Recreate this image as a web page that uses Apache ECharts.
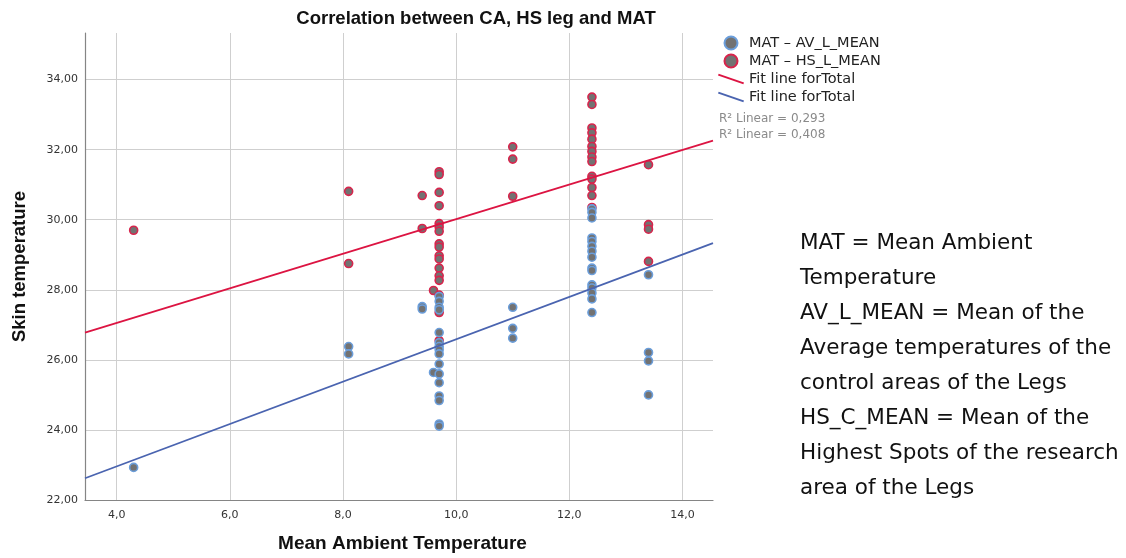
<!DOCTYPE html>
<html>
<head>
<meta charset="utf-8">
<script src="https://cdn.jsdelivr.net/npm/echarts@6/dist/echarts.min.js"></script>
<style>html,body{margin:0;padding:0;background:#fff;}#c{width:1126px;height:558px;}</style>
</head>
<body>
<div id="c"></div>
<script>
// ---- data ----
const xTicks = [4, 6, 8, 10, 12, 14];
const yTicks = [22, 24, 26, 28, 30, 32, 34];

const avX = [4.3, 8.1, 8.1, 9.4, 9.4, 9.6,
  9.7, 9.7, 9.7, 9.7, 9.7, 9.7, 9.7, 9.7, 9.7, 9.7, 9.7, 9.7, 9.7, 9.7, 9.7, 9.7,
  11.0, 11.0, 11.0,
  12.4, 12.4, 12.4, 12.4, 12.4, 12.4, 12.4, 12.4, 12.4, 12.4, 12.4, 12.4, 12.4, 12.4, 12.4,
  13.4, 13.4, 13.4, 13.4];
const avY = [22.93, 26.38, 26.17, 27.52, 27.45, 25.64,
  27.81, 27.67, 27.50, 27.43, 26.78, 26.49, 26.38, 26.29, 26.17, 25.88, 25.60, 25.35, 24.97, 24.84, 24.17, 24.11,
  27.50, 26.90, 26.62,
  30.31, 30.21, 30.05, 29.48, 29.38, 29.24, 29.10, 28.93, 28.62, 28.55, 28.14, 28.05, 27.91, 27.74, 27.35,
  28.43, 26.21, 25.97, 25.00];

const hsX = [4.3, 8.1, 8.1, 9.4, 9.4, 9.6,
  9.7, 9.7, 9.7, 9.7, 9.7, 9.7, 9.7, 9.7, 9.7, 9.7, 9.7, 9.7, 9.7, 9.7, 9.7, 9.7, 9.7,
  11.0, 11.0, 11.0,
  12.4, 12.4, 12.4, 12.4, 12.4, 12.4, 12.4, 12.4, 12.4, 12.4, 12.4, 12.4, 12.4, 12.4,
  13.4, 13.4, 13.4, 13.4];
const hsY = [29.70, 30.81, 28.75, 30.69, 29.75, 27.98,
  31.37, 31.29, 30.78, 30.40, 29.89, 29.79, 29.67, 29.31, 29.22, 28.97, 28.88, 28.62, 28.40, 28.27, 27.85, 27.35, 26.55,
  32.08, 31.73, 30.67,
  33.50, 33.29, 32.62, 32.48, 32.30, 32.09, 31.95, 31.79, 31.66, 31.24, 31.16, 30.92, 30.69, 30.35,
  31.57, 29.86, 29.73, 28.81];

// fit line end points (x, y)
const hsFitX = [3.44, 14.54];
const hsFitY = [26.78, 32.26];
const avFitX = [3.44, 14.54];
const avFitY = [22.62, 29.33];

const rSquared = ['0,293', '0,408'];

const notes = [
  'MAT = Mean Ambient',
  'Temperature',
  'AV_L_MEAN = Mean of the',
  'Average temperatures of the',
  'control areas of the Legs',
  'HS_C_MEAN = Mean of the',
  'Highest Spots of the research',
  'area of the Legs'
];

// ---- build ----
const zip = (xs, ys) => xs.map((x, i) => [x, ys[i]]);
const comma = (v, d) => v.toFixed(d).replace('.', ',');

const AV_NAME = 'MAT \u2013 AV_L_MEAN';
const HS_NAME = 'MAT \u2013 HS_L_MEAN';
const FIT_R = 'Fit line forTotal';
const FIT_B = 'Fit line forTotal\u200b';
const lineIcon = 'path://M0.66,0 L26.66,9 L26,10.9 L0,1.9 Z';

const chart = echarts.init(document.getElementById('c'), null, {renderer: 'canvas'});
chart.setOption({
  animation: false,
  backgroundColor: '#fff',
  title: {
    text: 'Correlation between CA, HS leg and MAT',
    left: 471, top: 4, textAlign: 'center',
    textStyle: {fontFamily: 'Liberation Sans', fontWeight: 'bold', fontSize: 18.5, color: '#111'}
  },
  legend: {
    orient: 'vertical', left: 718, top: 34, padding: 0,
    itemWidth: 26, itemHeight: 13, itemGap: 0,
    textStyle: {fontFamily: 'DejaVu Sans', fontSize: 14.5, color: '#222', lineHeight: 18},
    data: [
      {name: AV_NAME, icon: 'circle'},
      {name: HS_NAME, icon: 'circle'},
      {name: FIT_R, icon: lineIcon},
      {name: FIT_B, icon: lineIcon}
    ],
    selectedMode: false
  },
  grid: {left: 85, right: 413, top: 33, bottom: 58, containLabel: false},
  xAxis: {
    type: 'value', min: 3.44, max: 14.54, minInterval: 2, maxInterval: 2,
    name: 'Mean Ambient Temperature', nameLocation: 'middle', nameGap: 34,
    nameTextStyle: {fontFamily: 'Liberation Sans', fontWeight: 'bold', fontSize: 19, color: '#111', padding: [0, 0, 0, 7]},
    axisLine: {lineStyle: {color: '#858585', width: 1.2}},
    axisTick: {show: false},
    axisLabel: {
      margin: 10, fontFamily: 'DejaVu Sans', fontSize: 11, color: '#333',
      showMinLabel: false, showMaxLabel: false,
      formatter: v => xTicks.includes(Math.round(v * 1000) / 1000) ? comma(v, 1) : ''
    },
    splitLine: {show: true, showMinLine: false, showMaxLine: false, lineStyle: {color: '#cfcfcf', width: 1}}
  },
  yAxis: {
    type: 'value', min: 22, max: 35.33, minInterval: 2, maxInterval: 2,
    name: 'Skin temperature', nameLocation: 'middle', nameGap: 56,
    nameTextStyle: {fontFamily: 'Liberation Sans', fontWeight: 'bold', fontSize: 18.5, color: '#111'},
    axisLine: {show: true, lineStyle: {color: '#858585', width: 1.2}},
    axisTick: {show: false},
    axisLabel: {
      margin: 7, fontFamily: 'DejaVu Sans', fontSize: 11, color: '#333',
      showMaxLabel: false,
      formatter: v => yTicks.includes(Math.round(v * 1000) / 1000) ? comma(v, 2) : ''
    },
    splitLine: {show: true, showMinLine: false, showMaxLine: false, lineStyle: {color: '#cfcfcf', width: 1}}
  },
  series: [
    {
      name: HS_NAME, type: 'scatter', symbolSize: 8, z: 2,
      itemStyle: {color: '#727272', borderColor: '#d8244c', borderWidth: 1.6, opacity: 1},
      data: zip(hsX, hsY)
    },
    {
      name: AV_NAME, type: 'scatter', symbolSize: 8, z: 3,
      itemStyle: {color: '#727272', borderColor: '#6b9edb', borderWidth: 1.6, opacity: 1},
      data: zip(avX, avY)
    },
    {
      name: FIT_R, type: 'line', z: 4, symbol: 'none', silent: true,
      itemStyle: {color: '#dc1442'},
      lineStyle: {color: '#dc1442', width: 1.8},
      data: zip(hsFitX, hsFitY)
    },
    {
      name: FIT_B, type: 'line', z: 4, symbol: 'none', silent: true,
      itemStyle: {color: '#4a64b0'},
      lineStyle: {color: '#4a64b0', width: 1.8},
      data: zip(avFitX, avFitY)
    }
  ],
  graphic: [
    {
      type: 'text', left: 719, top: 111,
      style: {
        text: rSquared.map(r => 'R\u00b2 Linear = ' + r).join('\n'),
        font: '12px "DejaVu Sans"', fill: '#8a8a8a', lineHeight: 16
      }
    },
    {
      type: 'text', left: 800, top: 226,
      style: {
        text: notes.join('\n'),
        font: '21.5px "DejaVu Sans"', fill: '#111', lineHeight: 35
      }
    }
  ]
});
</script>
</body>
</html>
